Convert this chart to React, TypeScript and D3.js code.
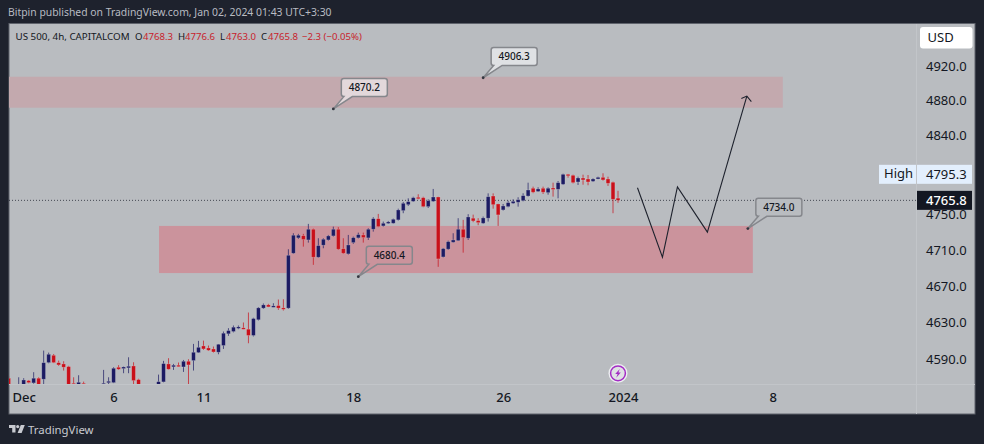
import React, { useEffect, useRef } from 'react';
import * as d3 from 'd3';

// Candles, oldest first (4h bars)
const opens = [
  4569.1, 4550, 4556, 4560, 4566.5, 4564, 4569.1, 4568, 4586, 4594,
  4586, 4584.6, 4581.7, 4563.6, 4556, 4563.6, 4557, 4554, 4556, 4561.8,
  4564.3, 4564.3, 4581, 4579.5, 4580.3, 4582.4, 4567.6, 4556, 4554, 4552,
  4556, 4565.1, 4584.6, 4581.4, 4583.2, 4581.3, 4587.5, 4588.2, 4596.9, 4604.2,
  4602, 4600.9, 4597.3, 4604.6, 4617.4, 4619.9, 4624, 4624, 4622.5, 4615.6,
  4632.8, 4645.6, 4649.2, 4647.4, 4648.5, 4645.9, 4645.6, 4706.4, 4723.6, 4726.1,
  4721.3, 4733.3, 4702, 4715.4, 4721.3, 4725.8, 4733.3, 4711.6, 4705.7, 4718.3,
  4723.6, 4726.9, 4723.6, 4733.3, 4745.2, 4737, 4740, 4740, 4743.8, 4754.2,
  4760.9, 4764.7, 4769.3, 4768.8, 4758.7, 4764.7, 4769.6, 4702.3, 4711, 4718.7,
  4720.5, 4733.3, 4723.2, 4745.7, 4743, 4740, 4745.7, 4770.7, 4761.7, 4755,
  4758.7, 4762.5, 4763.6, 4765.4, 4770.7, 4779.5, 4775.9, 4779.5, 4774.5, 4779.8,
  4778.3, 4784, 4795.3, 4794.2, 4786.6, 4791.1, 4790, 4787.4, 4790, 4791.9,
  4790, 4786.3, 4768.3,
];
const highs = [
  4571, 4558, 4570.1, 4569.1, 4567.2, 4575.6, 4570.1, 4599.1, 4596.9, 4595.4,
  4588.2, 4587.5, 4582.5, 4570.1, 4572.3, 4565.4, 4560, 4558, 4559, 4578.1,
  4570.1, 4581, 4583.2, 4581.7, 4591.8, 4586.4, 4568.5, 4559, 4557, 4557,
  4573, 4587.9, 4590.8, 4584.6, 4586.1, 4588.9, 4589.7, 4606.4, 4609.7, 4610,
  4604.6, 4603.5, 4606.3, 4619.9, 4623.6, 4626.5, 4626.5, 4629.8, 4640.8, 4635,
  4646.7, 4650.7, 4650.3, 4651, 4655.1, 4655.4, 4710.9, 4728.8, 4728.1, 4728.1,
  4739.3, 4734, 4723.2, 4723.2, 4726.9, 4736.2, 4735.6, 4723.2, 4726.9, 4725,
  4729.5, 4729.5, 4734.4, 4746.8, 4750.5, 4741.9, 4742.6, 4745.2, 4756.4, 4764,
  4768.1, 4769.9, 4772.7, 4769.9, 4767, 4778.7, 4769.9, 4712.3, 4720.5, 4728.8,
  4745.7, 4743.8, 4750.2, 4749.7, 4745.7, 4747.5, 4773.7, 4773.7, 4762, 4761.7,
  4765.4, 4767, 4769.3, 4773.8, 4785.8, 4781.3, 4780.6, 4781.3, 4780.6, 4785.8,
  4787.7, 4796, 4795.7, 4794.9, 4792.6, 4794.9, 4794.5, 4790.8, 4792.6, 4796.5,
  4792.6, 4787, 4776.6,
];
const lows = [
  4552, 4545, 4552, 4558, 4563.6, 4563, 4558, 4562, 4585.3, 4585.5,
  4582.4, 4577.4, 4553, 4553, 4554, 4556, 4553, 4550, 4552, 4561,
  4562.5, 4563.8, 4578.1, 4574.5, 4574.5, 4562.5, 4556, 4552, 4550, 4549,
  4554, 4564.6, 4578.5, 4578.1, 4581.7, 4575.9, 4562.5, 4577.4, 4596.5, 4599.8,
  4598.7, 4596.9, 4595.1, 4600.9, 4615.2, 4619, 4622.5, 4622.5, 4607.1, 4614.5,
  4632, 4644.8, 4646.7, 4646.7, 4643.7, 4643, 4644.8, 4705.8, 4722.4, 4713.8,
  4718.3, 4693.5, 4701.5, 4712, 4720.5, 4725, 4710.1, 4705.7, 4704.9, 4716.9,
  4722.9, 4718.3, 4721.3, 4730.6, 4735.6, 4736.2, 4739.3, 4739.6, 4743, 4751.3,
  4759.5, 4764, 4767, 4758, 4757.2, 4764, 4691.3, 4701.7, 4710.1, 4718.3,
  4720.2, 4707.1, 4721.3, 4741.2, 4737.8, 4739.3, 4741.9, 4756.4, 4737, 4754.2,
  4758, 4761.7, 4758.7, 4764.7, 4770, 4773.9, 4775.3, 4773, 4772.2, 4770,
  4768.1, 4783.2, 4791.5, 4785, 4783.2, 4783.5, 4782.9, 4786.6, 4789.7, 4788,
  4782.1, 4751.3, 4763,
];
const closes = [
  4556, 4556, 4561, 4567.2, 4564.3, 4569.1, 4560, 4586, 4595.1, 4586,
  4583.5, 4581, 4555, 4556, 4564.7, 4558, 4554, 4556, 4558, 4563.6,
  4565.8, 4579.9, 4578.8, 4581.3, 4582.1, 4566.5, 4558, 4554, 4552, 4556,
  4565.4, 4585, 4578.8, 4583.2, 4582.4, 4587.5, 4583.5, 4597.3, 4602.7, 4600.9,
  4599.4, 4597.6, 4606, 4618.1, 4621, 4624.7, 4625, 4623.2, 4615.6, 4634.2,
  4645.9, 4649.2, 4647, 4648.1, 4645.6, 4645.2, 4704.2, 4726.6, 4726.6, 4721.7,
  4733.3, 4702, 4715, 4722.1, 4725.8, 4733.3, 4710.9, 4706.4, 4715.7, 4723.9,
  4727.3, 4723.9, 4733.3, 4745.2, 4736.2, 4740, 4741.5, 4744.5, 4755, 4762.5,
  4764.3, 4768.8, 4768.1, 4758.7, 4765.4, 4769.6, 4700.1, 4711.6, 4719.4, 4721.3,
  4733.3, 4723.9, 4747.1, 4742.6, 4740.7, 4746, 4769.9, 4760.9, 4749.4, 4759.5,
  4763.2, 4764.7, 4766.5, 4771.1, 4777.5, 4775, 4778.7, 4775, 4779.5, 4778.7,
  4785.8, 4795.3, 4794.2, 4785.8, 4791.1, 4788.9, 4786.6, 4790, 4791.9, 4788.9,
  4785.1, 4767, 4765.8,
];

const priceTicks = [4920, 4880, 4840, 4750, 4710, 4670, 4630, 4590];
const timeTicks = [3, 21, 39, 69, 99, 123, 153];
const timeLabels = ['Dec', '6', '11', '18', '26', '2024', '8'];

// Drawings on the chart
const zones = [
  { from: 0, to: 155, top: 4907.5, bottom: 4871.6, color: '#c3a9ae' },
  { from: 30.1, to: 149, top: 4737, bottom: 4684.4, color: '#cb939c' },
];
const pathBars = [125.9, 130.9, 133.9, 139.9, 147.8];
const pathPrices = [4780, 4702, 4781, 4730, 4885];
const calloutBars = [65, 95, 70, 148];
const calloutPrices = [4870.2, 4906.3, 4680.4, 4734.0];
const calloutFills = ['#e3d8db', '#dfe1e4', '#cb939c', '#b9bcc0'];

const legendParts = [
  { x: 135, text: 'O', color: '#131722' },
  { x: 143, text: '4768.3', color: '#c8232c' },
  { x: 178, text: 'H', color: '#131722' },
  { x: 185, text: '4776.6', color: '#c8232c' },
  { x: 220, text: 'L', color: '#131722' },
  { x: 226, text: '4763.0', color: '#c8232c' },
  { x: 261, text: 'C', color: '#131722' },
  { x: 268, text: '4765.8', color: '#c8232c' },
  { x: 302, text: '−2.3 (−0.05%)', color: '#c8232c' },
];

const WIDTH = 984;
const HEIGHT = 444;
const FONT = '"Noto Sans", sans-serif';
const UP = '#1c1b63';
const DOWN = '#c9101a';

export default function App() {
  const svgRef = useRef<SVGSVGElement>(null);

  useEffect(() => {
    if (!svgRef.current) return;
    const svg = d3.select(svgRef.current);
    svg.selectAll('*').remove();

    const x = d3.scaleLinear().domain([0, 122]).range([8.7, 618]);
    const y = d3.scaleLog().domain([4969.2, 4530.5]).range([24, 414]);

    svg.append('rect').attr('width', WIDTH).attr('height', HEIGHT).attr('fill', '#1e222d');
    svg.append('rect').attr('x', 9).attr('y', 23.5).attr('width', 966).attr('height', 390.5)
      .attr('fill', '#b9bcc0').attr('stroke', '#5f636c').attr('stroke-width', 1);

    svg.append('text').attr('x', 8).attr('y', 16).attr('font-size', 10.4)
      .attr('fill', '#b8bbc2').attr('font-family', FONT)
      .text('Bitpin published on TradingView.com, Jan 02, 2024 01:43 UTC+3:30');

    // separators of the two axes
    svg.append('line').attr('x1', 9).attr('x2', 975).attr('y1', 384.5).attr('y2', 384.5).attr('stroke', '#c2c5c9');
    svg.append('line').attr('x1', 916.5).attr('x2', 916.5).attr('y1', 24).attr('y2', 414).attr('stroke', '#c2c5c9');

    svg.append('clipPath').attr('id', 'pane').append('rect')
      .attr('x', 9).attr('y', 24).attr('width', 907).attr('height', 360);
    const pane = svg.append('g').attr('clip-path', 'url(#pane)');

    pane.selectAll('rect.zone').data(zones).enter().append('rect').attr('class', 'zone')
      .attr('x', d => x(d.from))
      .attr('y', d => y(d.top))
      .attr('width', d => x(d.to) - x(d.from))
      .attr('height', d => y(d.bottom) - y(d.top))
      .attr('fill', d => d.color);

    const last = closes[closes.length - 1];
    pane.append('line').attr('x1', 9).attr('x2', 916).attr('y1', y(last)).attr('y2', y(last))
      .attr('stroke', '#1e222d').attr('stroke-opacity', 0.75).attr('stroke-width', 1).attr('stroke-dasharray', '1 2');

    const candles = pane.selectAll('g.candle').data(d3.range(opens.length)).enter()
      .append('g').attr('class', 'candle');
    candles.append('line')
      .attr('x1', i => x(i)).attr('x2', i => x(i))
      .attr('y1', i => y(highs[i])).attr('y2', i => y(lows[i]))
      .attr('stroke', i => (closes[i] >= opens[i] ? UP : DOWN))
      .attr('stroke-opacity', 0.7)
      .attr('stroke-width', 1);
    candles.append('rect')
      .attr('x', i => x(i) - 1.9)
      .attr('width', 3.8)
      .attr('y', i => y(Math.max(opens[i], closes[i])))
      .attr('height', i => Math.max(1.5, Math.abs(y(opens[i]) - y(closes[i]))))
      .attr('fill', i => (closes[i] >= opens[i] ? UP : DOWN))
      .attr('stroke', '#e4e6e8')
      .attr('stroke-opacity', 0.35)
      .attr('stroke-width', 0.7);

    // forecast path
    const line = d3.line<number>().x(i => x(pathBars[i])).y(i => y(pathPrices[i]));
    pane.append('path').attr('d', line(d3.range(pathBars.length)))
      .attr('fill', 'none').attr('stroke', '#1e222d').attr('stroke-width', 1.1);
    const tipX = x(pathBars[pathBars.length - 1]);
    const tipY = y(pathPrices[pathPrices.length - 1]);
    pane.append('path')
      .attr('d', `M${tipX - 5.5},${tipY + 2.5}L${tipX},${tipY}L${tipX + 4.5},${tipY + 5.5}`)
      .attr('fill', 'none').attr('stroke', '#1e222d').attr('stroke-width', 1.1);

    // price callouts
    calloutPrices.forEach((price, i) => {
      const ax = x(calloutBars[i]);
      const ay = y(price);
      const l = ax + 8;
      const t = ay - 30.3;
      const w = 46;
      const h = 18;
      const r = 2.5;
      const d = `M${l + r},${t}H${l + w - r}Q${l + w},${t} ${l + w},${t + r}V${t + h - r}Q${l + w},${t + h} ${l + w - r},${t + h}`
        + `H${l + 11}L${ax},${ay}L${l + 2.5},${t + h}H${l + r}Q${l},${t + h} ${l},${t + h - r}V${t + r}Q${l},${t} ${l + r},${t}Z`;
      pane.append('path').attr('d', d).attr('fill', calloutFills[i])
        .attr('stroke', '#85878c').attr('stroke-width', 1.5);
      pane.append('circle').attr('cx', ax).attr('cy', ay).attr('r', 1.4).attr('fill', '#33363f');
      pane.append('text').attr('x', l + w / 2).attr('y', t + h / 2 + 3.6)
        .attr('text-anchor', 'middle').attr('font-size', 10).attr('font-weight', 500).attr('font-family', FONT)
        .attr('fill', '#131722').text(price.toFixed(1));
    });

    // flash icon
    const icon = svg.append('g').attr('transform', 'translate(618,373.3)');
    icon.append('circle').attr('r', 9.5).attr('fill', '#eceef0');
    icon.append('circle').attr('r', 7.4).attr('fill', '#dfe1e4').attr('stroke', '#a32cc4').attr('stroke-width', 1.5);
    icon.append('path').attr('d', 'M1.8,-4.4L-2.8,0.8H-0.4L-1.8,4.4L2.8,-0.8H0.4Z').attr('fill', '#a32cc4');

    // legend
    const legend = svg.append('g').attr('font-family', FONT);
    legend.append('text').attr('x', 15.5).attr('y', 39.5).attr('font-size', 9.8).attr('fill', '#131722')
      .text('US 500, 4h, CAPITALCOM');
    legend.selectAll('text.part').data(legendParts).enter().append('text').attr('class', 'part')
      .attr('x', d => d.x).attr('y', 39.5).attr('font-size', 9.6).attr('fill', d => d.color).text(d => d.text);

    // price axis
    const axisR = d3.axisRight(y)
      .tickValues(priceTicks)
      .tickSize(0)
      .tickPadding(0)
      .tickFormat(d => (d as number).toFixed(1));
    const gy = svg.append('g').attr('transform', 'translate(926,0)').call(axisR as any);
    gy.select('.domain').remove();
    gy.selectAll('text').attr('font-size', 13).attr('font-family', FONT).attr('fill', '#131722');

    // time axis
    const axisB = d3.axisBottom(x)
      .tickValues(timeTicks)
      .tickSize(0)
      .tickPadding(0)
      .tickFormat((_, i) => timeLabels[i]);
    const gx = svg.append('g').attr('transform', 'translate(0,393)').call(axisB as any);
    gx.select('.domain').remove();
    gx.selectAll('text').attr('font-size', 13).attr('font-weight', 500).attr('font-family', FONT).attr('fill', '#131722');

    // USD button
    svg.append('rect').attr('x', 920).attr('y', 27).attr('width', 52.5).attr('height', 21.5).attr('rx', 3).attr('fill', '#ffffff');
    svg.append('text').attr('x', 927.5).attr('y', 42).attr('font-size', 13).attr('font-family', FONT)
      .attr('fill', '#131722').text('USD');

    // High label
    const highValue = d3.max(highs.slice(111, 112)) as number;
    const highY = y(highValue - 0.7);
    svg.append('rect').attr('x', 879).attr('y', highY - 9.5).attr('width', 37).attr('height', 19).attr('fill', '#e3effd');
    svg.append('rect').attr('x', 917).attr('y', highY - 9.5).attr('width', 55).attr('height', 19).attr('fill', '#e3effd');
    svg.append('text').attr('x', 884).attr('y', highY + 3.5).attr('font-size', 13).attr('font-family', FONT)
      .attr('fill', '#131722').text('High');
    svg.append('text').attr('x', 926).attr('y', highY + 4.5).attr('font-size', 13).attr('font-family', FONT)
      .attr('fill', '#131722').text((highValue - 0.7).toFixed(1));

    // last price label
    svg.append('rect').attr('x', 917).attr('y', y(last) - 9.5).attr('width', 55).attr('height', 19).attr('fill', '#131722');
    svg.append('text').attr('x', 926).attr('y', y(last) + 4.5).attr('font-size', 13).attr('font-family', FONT)
      .attr('font-weight', 500).attr('fill', '#ffffff').text(last.toFixed(1));

    // TradingView mark
    const logo = svg.append('g').attr('fill', '#c8cad0').attr('transform', 'translate(9,425)');
    logo.append('path').attr('d', 'M0,0H6.5V7.5H3.2V3H0Z');
    logo.append('circle').attr('cx', 8.7).attr('cy', 1.6).attr('r', 1.6);
    logo.append('path').attr('d', 'M11.8,0H15.8L12.6,8H8.6Z');
    svg.append('text').attr('x', 28).attr('y', 433.5).attr('font-size', 11.4).attr('font-family', FONT)
      .attr('fill', '#c8cad0').text('TradingView');
  }, []);

  return <svg ref={svgRef} width={WIDTH} height={HEIGHT} style={{ position: 'absolute', left: 0, top: 0 }} />;
}
